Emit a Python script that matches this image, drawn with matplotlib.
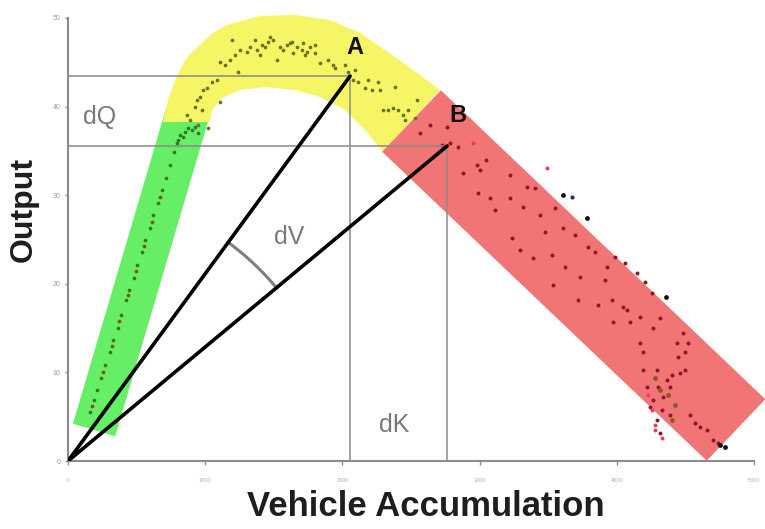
import numpy as np
import matplotlib
matplotlib.use("Agg")
import matplotlib.pyplot as plt

plt.rcParams['font.family'] = ['Liberation Sans', 'DejaVu Sans']

# axis ticks (the labels in the source image are too blurry to read)
x_ticks = [0, 1, 2, 3, 4, 5]
x_tick_labels = ['0', '1000', '2000', '3000', '4000', '5000']
y_ticks = [0, 1, 2, 3, 4, 5]
y_tick_labels = ['0', '10', '20', '30', '40', '50']

# operating points A and B
point_a = (2.056, 4.345)
point_b = (2.763, 3.555)

# regime bands
green_band_x = [0.190, 0.870]
green_band_y = [0.350, 3.917]
red_band_x = [2.504, 4.869]
red_band_y = [3.837, 0.350]
yellow_outer_x = [0.692, 0.729, 0.773, 0.816, 0.875, 0.962, 1.055, 1.159, 1.399, 1.655, 1.910, 2.128, 2.383, 2.566, 2.711]
yellow_outer_y = [3.826, 4.074, 4.260, 4.413, 4.570, 4.695, 4.830, 4.921, 5.023, 5.034, 4.977, 4.831, 4.560, 4.357, 4.187]
yellow_inner_x = [2.296, 2.165, 2.019, 1.837, 1.655, 1.436, 1.254, 1.122, 1.050, 1.035]
yellow_inner_y = [3.488, 3.736, 3.962, 4.108, 4.187, 4.221, 4.187, 4.097, 3.962, 3.826]

# observations: free-flow branch
green_x = [0.160, 0.192, 0.210, 0.243, 0.269, 0.304, 0.328, 0.361, 0.387, 0.426, 0.446, 0.479,
           0.505, 0.540, 0.564, 0.596, 0.623, 0.655, 0.682, 0.714, 0.741, 0.775, 0.794,
           0.816, 0.853, 0.875, 0.904, 0.838, 0.926, 0.948, 0.802]
green_y = [0.553, 0.688, 0.801, 0.937, 1.084, 1.230, 1.366, 1.501, 1.648, 1.817, 1.930, 2.065,
           2.212, 2.359, 2.494, 2.630, 2.777, 2.912, 3.059, 3.194, 3.341, 3.488, 3.589,
           3.679, 3.713, 3.758, 3.736, 3.657, 3.770, 3.702, 3.623]
green_brown_x = [0.175, 0.255, 0.318, 0.372, 0.435, 0.492, 0.552, 0.610, 0.668]
green_brown_y = [0.620, 1.010, 1.300, 1.575, 1.875, 2.140, 2.430, 2.700, 2.985]

# observations: capacity branch
yellow_pts_x = [1.195, 1.108, 1.144, 1.181, 1.217, 1.254, 1.305, 1.327, 1.378, 1.400, 1.436, 1.458,
                1.494, 1.523, 1.545, 1.567, 1.596, 1.633, 1.640, 1.669, 1.706, 1.727, 1.086, 1.050,
                1.013, 0.984, 0.962, 0.940, 0.926, 0.977, 1.108, 0.867, 0.889, 0.948, 1.020, 1.239,
                1.713, 1.742, 1.800, 1.800, 1.837, 1.895, 1.932, 1.946, 2.019, 2.041, 2.092, 2.077,
                2.114, 2.165, 2.187, 2.216, 2.260, 2.274, 2.384, 2.296, 2.333, 2.369, 2.405, 2.442,
                2.456, 2.478, 2.529, 2.544, 1.472, 1.764, 1.618, 1.363, 1.414]
yellow_pts_y = [4.752, 4.503, 4.470, 4.526, 4.583, 4.639, 4.616, 4.673, 4.639, 4.583, 4.673, 4.729,
                4.752, 4.526, 4.673, 4.639, 4.695, 4.729, 4.605, 4.673, 4.639, 4.583, 4.300, 4.278,
                4.210, 4.187, 4.108, 4.075, 3.996, 3.962, 4.052, 3.905, 3.849, 3.792, 3.759, 4.391,
                4.718, 4.616, 4.695, 4.605, 4.492, 4.526, 4.470, 4.436, 4.470, 4.391, 4.413, 4.300,
                4.278, 4.210, 4.300, 4.187, 4.278, 4.187, 4.221, 3.962, 3.962, 3.984, 3.962, 3.905,
                3.849, 3.962, 3.871, 4.075, 4.786, 4.673, 4.718, 4.752, 4.695]

# observations: congested branch
red_pts_x = [2.566, 2.639, 2.763, 2.843, 2.784, 2.726, 2.879, 2.981, 3.003, 2.988, 3.076, 3.112,
             3.222, 3.346, 3.404, 3.222, 3.316, 3.440, 3.550, 3.477, 3.608, 3.696, 3.790, 3.236,
             3.389, 3.623, 3.732, 3.929, 3.914, 3.987, 4.060, 4.147, 4.206, 4.257, 3.535, 3.717,
             3.863, 4.045, 4.075, 4.169, 4.315, 3.973, 4.096, 4.483, 4.519, 4.439, 4.497, 4.446,
             4.264, 4.191, 4.169, 4.497, 4.461, 4.403, 4.366, 4.293, 4.301, 4.388, 4.337, 4.264,
             4.242, 4.330, 4.388, 4.293, 4.315, 4.534, 4.570, 4.607, 4.658, 4.701, 4.738, 4.191,
             4.220, 3.047, 3.295, 3.528, 3.841, 3.965]
red_pts_y = [3.702, 3.792, 3.770, 3.544, 3.589, 3.567, 3.251, 3.341, 3.285, 3.025, 2.968, 2.833,
             3.228, 3.093, 3.081, 2.968, 2.867, 2.777, 2.856, 2.585, 2.630, 2.551, 2.415, 2.517,
             2.291, 2.190, 2.077, 2.190, 2.043, 2.303, 2.235, 2.122, 2.020, 1.896, 1.987, 1.817,
             1.761, 1.738, 1.704, 1.625, 1.614, 1.569, 1.569, 1.445, 1.332, 1.332, 1.230, 1.174,
             1.501, 1.230, 1.332, 1.027, 0.993, 0.971, 0.914, 1.027, 0.835, 0.835, 0.722, 0.688,
             0.609, 0.576, 0.519, 0.463, 0.316, 0.519, 0.429, 0.384, 0.350, 0.237, 0.203, 1.027,
             0.835, 3.397, 2.382, 2.325, 2.359, 1.817]
black_pts_x = [3.608, 3.783, 4.359, 4.752, 4.789]
black_pts_y = [3.002, 2.743, 1.851, 0.181, 0.158]
blue_pts_x = [3.674]
blue_pts_y = [2.980]
pink_pts_x = [3.491, 2.952, 4.330, 4.279, 4.228, 4.257, 4.279]
pink_pts_y = [3.307, 3.589, 0.260, 0.350, 0.745, 0.576, 0.406]
brown_pts_x = [4.279, 4.373, 4.425, 4.403, 4.315]
brown_pts_y = [0.937, 0.745, 0.632, 0.463, 0.801]

ARC_RADIUS_PX = 271

fig = plt.figure(figsize=(7.65, 5.29), dpi=100)
ax = fig.add_axes([68 / 765, 1 - 461 / 529, 686 / 765, 443 / 529])
ax.set_xlim(0, 5)
ax.set_ylim(0, 5)

# bands
ax.plot(green_band_x, green_band_y, color='#66ee66', lw=31.7, solid_capstyle='butt',
        zorder=1, clip_on=False)
ax.fill(yellow_outer_x + yellow_inner_x, yellow_outer_y + yellow_inner_y,
        color='#f5f566', lw=0, zorder=1.1, clip_on=False)
ax.plot(red_band_x, red_band_y, color='#f17575', lw=61.2, solid_capstyle='butt',
        zorder=1.2, clip_on=False)

# scatter
ax.scatter(green_x, green_y, s=7, color='#2f7a1c', lw=0, zorder=2)
ax.scatter(green_brown_x, green_brown_y, s=7, color='#8a4a1a', lw=0, zorder=2)
ax.scatter(yellow_pts_x, yellow_pts_y, s=7, color='#6a741c', lw=0, zorder=2)
ax.scatter(red_pts_x, red_pts_y, s=8, color='#8e1426', lw=0, zorder=2, clip_on=False)
ax.scatter(brown_pts_x, brown_pts_y, s=12, color='#8a5a22', lw=0, zorder=2)
ax.scatter(pink_pts_x, pink_pts_y, s=8, color='#f03a55', lw=0, zorder=2)
ax.scatter(blue_pts_x, blue_pts_y, s=9, color='#23306e', lw=0, zorder=2)
ax.scatter(black_pts_x, black_pts_y, s=12, color='#111111', lw=0, zorder=2)

# reference lines to axes
for px, py in (point_a, point_b):
    ax.plot([0, px], [py, py], color='#8a8a8a', lw=1.1, zorder=3)
    ax.plot([px, px], [0, py], color='#8a8a8a', lw=1.1, zorder=3)

# rays from origin
for px, py in (point_a, point_b):
    ax.plot([0, px], [0, py], color='black', lw=2.6, zorder=4, solid_capstyle='round')

# angle arc between the rays, drawn in display space
o = ax.transData.transform((0, 0))
pa = ax.transData.transform(point_a)
pb = ax.transData.transform(point_b)
ang_a = np.arctan2(pa[1] - o[1], pa[0] - o[0])
ang_b = np.arctan2(pb[1] - o[1], pb[0] - o[0])
theta = np.linspace(ang_b, ang_a, 50)
arc_disp = np.column_stack([o[0] + ARC_RADIUS_PX * np.cos(theta), o[1] + ARC_RADIUS_PX * np.sin(theta)])
arc_data = ax.transData.inverted().transform(arc_disp)
ax.plot(arc_data[:, 0], arc_data[:, 1], color='#7f7f7f', lw=2.2, zorder=3.5)

# labels
ax.text(2.092, 4.662, 'A', fontsize=17, fontweight='bold', color='#111111', ha='center', va='center', zorder=5)
ax.text(2.843, 3.894, 'B', fontsize=17, fontweight='bold', color='#111111', ha='center', va='center', zorder=5)
ax.text(0.233, 3.883, 'dQ', fontsize=18, color='#7a7a7a', ha='center', va='center', zorder=5)
ax.text(2.376, 0.406, 'dK', fontsize=18, color='#7a7a7a', ha='center', va='center', zorder=5)
ax.text(1.611, 2.528, 'dV', fontsize=18, color='#7a7a7a', ha='center', va='center', zorder=5)

# axes styling
for side in ('top', 'right'):
    ax.spines[side].set_visible(False)
for side in ('left', 'bottom'):
    ax.spines[side].set_color('#8c8c8c')
    ax.spines[side].set_linewidth(1.5)
ax.set_xticks(x_ticks)
ax.set_xticklabels(x_tick_labels)
ax.set_yticks(y_ticks)
ax.set_yticklabels(y_tick_labels)
ax.tick_params(axis='x', length=3, width=1, color='#8c8c8c', labelsize=4, labelcolor='#b0b0b0', pad=9)
ax.tick_params(axis='y', length=2.5, width=1, color='#8c8c8c', labelsize=5, labelcolor='#9a9a9a', pad=3)
ax.set_facecolor('white')

fig.text(24 / 765, 1 - 210 / 529, 'Output', rotation=90, fontsize=23, fontweight='bold',
         color='#1e1e1e', ha='center', va='center')
fig.text(426 / 765, 1 - 507 / 529, 'Vehicle Accumulation', fontsize=25, fontweight='bold',
         color='#1e1e1e', ha='center', va='center')

fig.savefig('out.png', dpi=100, facecolor='white')
